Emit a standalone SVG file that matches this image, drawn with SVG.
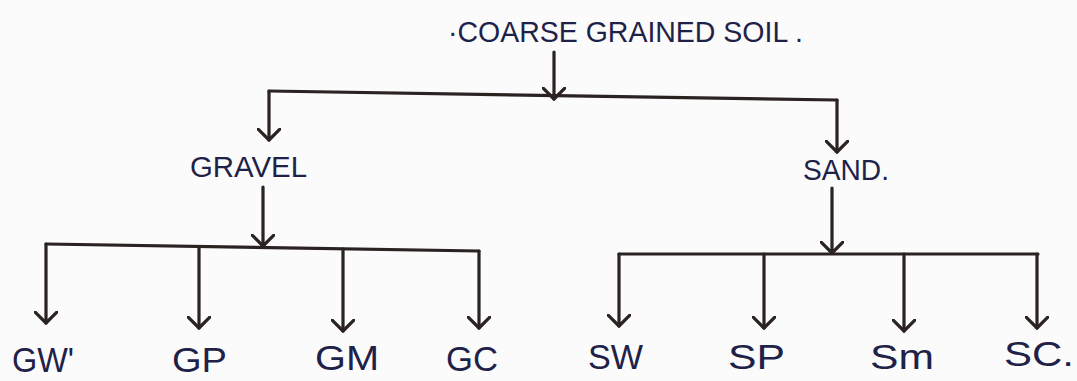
<svg xmlns="http://www.w3.org/2000/svg" width="1077" height="381" viewBox="0 0 1077 381">
<defs>
<style>
.lbl{font-family:"Liberation Sans",Arial,sans-serif;fill:#1f2248;}
.t{font-size:30px;}
.b{font-size:35px;}
.c{stroke:#2b2222;stroke-width:3.2;fill:none;stroke-linecap:round;stroke-linejoin:round;}
.a{marker-end:url(#ah);}
</style>
<marker id="ah" viewBox="0 0 14 24" refX="12" refY="12" markerWidth="14" markerHeight="24" markerUnits="userSpaceOnUse" orient="auto">
<path d="M1,1 L12,12 L1,23" fill="none" stroke="#2b2222" stroke-width="3.2" stroke-linecap="round" stroke-linejoin="round"/>
</marker>
</defs>
<rect width="1077" height="381" fill="#fbfbfb"/>
<g id="connectors">
<line class="c a" x1="554" y1="52" x2="554" y2="99"/>
<line class="c" x1="269" y1="91" x2="837" y2="100"/>
<line class="c a" x1="269" y1="91" x2="269" y2="140"/>
<line class="c a" x1="837" y1="100" x2="837" y2="152"/>
<line class="c a" x1="263" y1="187" x2="263" y2="246"/>
<line class="c" x1="46" y1="244" x2="479" y2="251"/>
<line class="c a" x1="46" y1="244" x2="46" y2="323"/>
<line class="c a" x1="199" y1="247" x2="199" y2="328"/>
<line class="c a" x1="343" y1="249" x2="343" y2="331"/>
<line class="c a" x1="479" y1="251" x2="479" y2="328"/>
<line class="c a" x1="832" y1="188" x2="832" y2="253"/>
<line class="c" x1="619" y1="254" x2="1038" y2="254"/>
<line class="c a" x1="619" y1="254" x2="619" y2="326"/>
<line class="c a" x1="764" y1="254" x2="764" y2="328"/>
<line class="c a" x1="904" y1="254" x2="904" y2="331"/>
<line class="c a" x1="1037" y1="254" x2="1037" y2="328"/>
</g>
<g id="coarse-grained-soil"><text class="lbl t" x="448" y="42" textLength="355" lengthAdjust="spacingAndGlyphs">·COARSE GRAINED SOIL .</text></g>
<g id="gravel"><text class="lbl t" x="190" y="177" textLength="117" lengthAdjust="spacingAndGlyphs">GRAVEL</text></g>
<g id="sand"><text class="lbl t" x="803" y="180" textLength="86" lengthAdjust="spacingAndGlyphs">SAND.</text></g>
<g id="gw"><text class="lbl b" x="12" y="372" textLength="62" lengthAdjust="spacingAndGlyphs">GW'</text></g>
<g id="gp"><text class="lbl b" x="172" y="372" textLength="55" lengthAdjust="spacingAndGlyphs">GP</text></g>
<g id="gm"><text class="lbl b" x="315" y="370" textLength="64" lengthAdjust="spacingAndGlyphs">GM</text></g>
<g id="gc"><text class="lbl b" x="446" y="371" textLength="52" lengthAdjust="spacingAndGlyphs">GC</text></g>
<g id="sw"><text class="lbl b" x="588" y="369" textLength="55" lengthAdjust="spacingAndGlyphs">SW</text></g>
<g id="sp"><text class="lbl b" x="728" y="369" textLength="57" lengthAdjust="spacingAndGlyphs">SP</text></g>
<g id="sm"><text class="lbl b" x="870" y="369" textLength="64" lengthAdjust="spacingAndGlyphs">Sm</text></g>
<g id="sc"><text class="lbl b" x="1004" y="366" textLength="70" lengthAdjust="spacingAndGlyphs">SC.</text></g>
</svg>
